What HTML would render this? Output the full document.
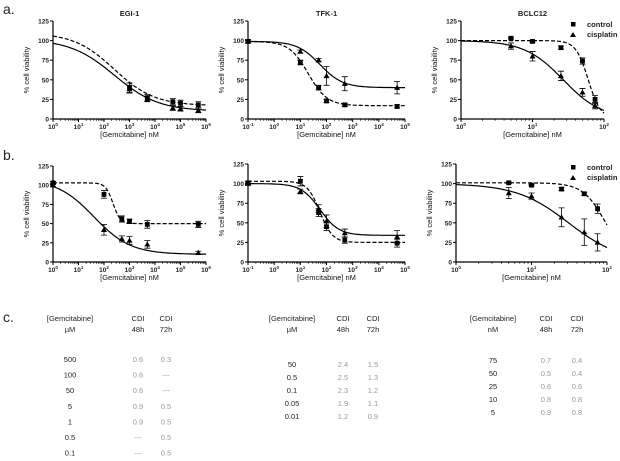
<!DOCTYPE html>
<html><head><meta charset="utf-8">
<style>
body{margin:0;background:#fff;width:620px;height:461px;overflow:hidden;font-family:"Liberation Sans",sans-serif;}
svg{position:absolute;left:0;top:0}
</style></head><body>
<svg id="fig" width="620" height="461"></svg>
<script>
// ---- data arrays ----
const a1X=[1000,5000,50000,100000,500000];
const a1Ctrl=[40,27,22,20,18];
const a1CtrlErr=[6,4,4,4,4];
const a1Cis=[38,25,14,13,11];
const a1CisErr=[5,3,3,3,3];
const a1CtrlFit=[110,17,2.4,0.55];
const a1CisFit=[102,10,2.4,0.5];

const a2X=[0.1,10,50,100,500,50000];
const a2Ctrl=[99,72,40,23,18,16];
const a2CtrlErr=[2,3,3,2,2,2];
const a2Cis=[99,86,75,55,45,40];
const a2CisErr=[2,2,2,12,9,8];
const a2CtrlFit=[99,17,1.3,1.2];
const a2CisFit=[99,40,1.75,1];

const a3X=[5,10,25,50,75];
const a3Ctrl=[103,99,91,74,25];
const a3CtrlErr=[1,1,2,4,5];
const a3Cis=[93,80,55,34,17];
const a3CisErr=[4,6,6,5,4];
const a3CtrlFit=[100,0,1.78,5];
const a3CisFit=[100,0,1.43,1.6];

const b1X=[1,100,500,1000,5000,500000];
const b1Ctrl=[103,88,56,53,49,49];
const b1CtrlErr=[2,5,4,3,5,4];
const b1Cis=[100,42,30,28,23,12];
const b1CisErr=[2,7,4,5,5,2];
const b1CtrlFit=[103,50,2.35,3];
const b1CisFit=[108,10,1.6,0.6];

const b2X=[0.1,10,50,100,500,50000];
const b2Ctrl=[101,103,63,45,28,24];
const b2CtrlErr=[2,6,5,5,4,5];
const b2Cis=[100,90,68,52,37,32];
const b2CisErr=[2,3,5,8,5,8];
const b2CtrlFit=[103,25,1.75,1.8];
const b2CisFit=[100,34,1.75,1.2];

const b3X=[5,10,25,50,75];
const b3Ctrl=[101,98,93,87,68];
const b3CtrlErr=[1,1,2,2,6];
const b3Cis=[88,84,57,38,25];
const b3CisErr=[7,4,12,17,11];
const b3CtrlFit=[101,0,1.98,2.9];
const b3CisFit=[100,0,1.49,1.26];

const yTicks=[0,25,50,75,100,125];

const NS="http://www.w3.org/2000/svg";
const svg=document.getElementById('fig');
function mk(tag,attrs,parent){const e=document.createElementNS(NS,tag);for(const k in attrs)e.setAttribute(k,attrs[k]);(parent||svg).appendChild(e);return e;}
function txt(s,x,y,attrs,parent){const t=mk('text',Object.assign({x:x,y:y,'font-size':7,'font-weight':'bold','fill':'#222','text-anchor':'middle'},attrs||{}),parent);t.textContent=s;return t;}

function panel(p){
  const g=mk('g',{});
  
  
  const sx=v=>p.x0+(Math.log10(v)-p.lmin)/(p.lmax-p.lmin)*(p.x1-p.x0);
  const sy=v=>p.y0-(v/125)*(p.y0-p.y1);
  const ax=mk('path',{d:`M${p.x0},${p.y1} V${p.y0} H${p.x1}`,stroke:'#000','stroke-width':1.2,fill:'none'},g);
  
  
  yTicks.forEach(t=>{
    mk('line',{x1:p.x0-3,x2:p.x0,y1:sy(t),y2:sy(t),stroke:'#000','stroke-width':1},g);
    const l=txt(String(t),p.x0-4,sy(t)+2.5,{'text-anchor':'end','font-size':6.5},g);
    
    
  });
  for(let e=p.lmin;e<=p.lmax;e++){
    const X=sx(Math.pow(10,e));
    mk('line',{x1:X,x2:X,y1:p.y0,y2:p.y0+3,stroke:'#000','stroke-width':1},g);
    const t=mk('text',{x:X,y:p.y0+10,'font-size':6.5,'font-weight':'bold','text-anchor':'middle',fill:'#222'},g);
    t.textContent='10';
    const s=mk('tspan',{dy:-3,'font-size':4.5},t);s.textContent=String(e);
    
    
    if(e<p.lmax)for(let m=2;m<10;m++){const xm=sx(m*Math.pow(10,e));mk('line',{x1:xm,x2:xm,y1:p.y0,y2:p.y0+1.8,stroke:'#000','stroke-width':0.7},g);}
  }
  if(p.title){const t=txt(p.title,(p.x0+p.x1)/2,p.y1-5,{'font-size':7.5},g);}
  const xl=txt('[Gemcitabine]  nM',(p.x0+p.x1)/2,p.y0+18,{'font-size':7.5,'font-weight':'normal',fill:'#111'},g);
  
  const yl=txt('% cell  viability',0,0,{'font-size':7.5,'font-weight':'normal',fill:'#111',transform:`translate(${p.x0-24},${(p.y0+p.y1)/2}) rotate(-90)`},g);
  
  function curve(fit,dash,name){
    let d='';
    for(let i=0;i<=120;i++){
      const lx=p.lmin+(p.lmax-p.lmin)*i/120;
      const v=fit[1]+(fit[0]-fit[1])/(1+Math.pow(10,(lx-fit[2])*fit[3]));
      d+=(i?'L':'M')+(p.x0+(lx-p.lmin)/(p.lmax-p.lmin)*(p.x1-p.x0)).toFixed(1)+','+sy(v).toFixed(1);
    }
    const c=mk('path',{d:d,stroke:'#000','stroke-width':1.2,fill:'none','stroke-dasharray':dash?'4,2':'none'},g);
    
  }
  curve(p.cf,true,'control-fit-line');
  curve(p.sf,false,'cisplatin-fit-line');
  function pts(vals,errs,tri,name){
    vals.forEach((v,i)=>{
      const X=sx(p.xs[i]),Y=sy(v),e=errs[i]*(p.y0-p.y1)/125;
      mk('path',{d:`M${X},${Y-e}V${Y+e}M${X-3},${Y-e}H${X+3}M${X-3},${Y+e}H${X+3}`,stroke:'#000','stroke-width':0.8},g);
      let m;
      if(tri)m=mk('path',{d:`M${X},${Y-3}L${X+3},${Y+2.2}L${X-3},${Y+2.2}Z`,fill:'#000'},g);
      else m=mk('rect',{x:X-2.4,y:Y-2.4,width:4.8,height:4.8,fill:'#000'},g);
      
    });
  }
  pts(p.cv,p.ce,false,'control-point');
  pts(p.sv,p.se,true,'cisplatin-point');
  if(p.legend){
    const lg=mk('g',{},g);
    mk('rect',{x:571,y:p.y1+1,width:4.5,height:4.5,fill:'#000'},lg);
    txt('control',587,p.y1+6,{'text-anchor':'start','font-size':7.5},lg);
    mk('path',{d:`M573,${p.y1+11}L576,${p.y1+16}L570,${p.y1+16}Z`,fill:'#000'},lg);
    txt('cisplatin',587,p.y1+16,{'text-anchor':'start','font-size':7.5},lg);
  }
}
panel({name:'chart-a-egi1',title:'EGI-1',x0:53,x1:206,lmin:0,lmax:6,y0:119,y1:21,xs:a1X,cv:a1Ctrl,ce:a1CtrlErr,sv:a1Cis,se:a1CisErr,cf:a1CtrlFit,sf:a1CisFit});
panel({name:'chart-a-tfk1',title:'TFK-1',x0:248,x1:405,lmin:-1,lmax:5,y0:119,y1:21,xs:a2X,cv:a2Ctrl,ce:a2CtrlErr,sv:a2Cis,se:a2CisErr,cf:a2CtrlFit,sf:a2CisFit});
panel({name:'chart-a-bclc12',title:'BCLC12',x0:461,x1:604,lmin:0,lmax:2,y0:119,y1:21,xs:a3X,cv:a3Ctrl,ce:a3CtrlErr,sv:a3Cis,se:a3CisErr,cf:a3CtrlFit,sf:a3CisFit,legend:true});
panel({name:'chart-b-egi1',x0:53,x1:206,lmin:0,lmax:6,y0:262,y1:166,xs:b1X,cv:b1Ctrl,ce:b1CtrlErr,sv:b1Cis,se:b1CisErr,cf:b1CtrlFit,sf:b1CisFit});
panel({name:'chart-b-tfk1',x0:248,x1:405,lmin:-1,lmax:5,y0:262,y1:164,xs:b2X,cv:b2Ctrl,ce:b2CtrlErr,sv:b2Cis,se:b2CisErr,cf:b2CtrlFit,sf:b2CisFit});
panel({name:'chart-b-bclc12',x0:456,x1:607,lmin:0,lmax:2,y0:262,y1:164,xs:b3X,cv:b3Ctrl,ce:b3CtrlErr,sv:b3Cis,se:b3CisErr,cf:b3CtrlFit,sf:b3CisFit,legend:true});

['a.','b.','c.'].forEach((s,i)=>{const t=txt(s,3,[14,160,322][i],{'text-anchor':'start','font-size':14,'font-weight':'normal'});});

const t1Conc=['500','100','50','5','1','0.5','0.1'];
const t1C48=['0.6','0.6','0.6','0.9','0.9','---','---'];
const t1C72=['0.3','---','---','0.5','0.5','0.5','0.5'];
const t2Conc=['50','0.5','0.1','0.05','0.01'];
const t2C48=['2.4','2.5','2.3','1.9','1.2'];
const t2C72=['1.5','1.3','1.2','1.1','0.9'];
const t3Conc=['75','50','25','10','5'];
const t3C48=['0.7','0.5','0.6','0.8','0.9'];
const t3C72=['0.4','0.4','0.6','0.8','0.8'];
function table(name,unit,cx,c1,c2,y0,dy,conc,a,b){
  const g=mk('g',{});
  const o={'font-size':7.5,'font-weight':'normal',fill:'#222'};
  txt('[Gemcitabine]',cx,321,o,g);txt(unit,cx,332,o,g);
  txt('CDI',c1,321,o,g);txt('48h',c1,332,o,g);txt('CDI',c2,321,o,g);txt('72h',c2,332,o,g);
  conc.forEach((c,i)=>{const y=y0+i*dy;
    txt(c,cx,y,o,g);
    txt(a[i],c1,y,Object.assign({},o,{fill:'#999'}),g);
    txt(b[i],c2,y,Object.assign({},o,{fill:'#999'}),g);});
}
table('cdi-table-egi1','µM',70,138,166,362,15.6,t1Conc,t1C48,t1C72);
table('cdi-table-tfk1','µM',292,343,373,367,13,t2Conc,t2C48,t2C72);
table('cdi-table-bclc12','nM',493,546,577,363,13,t3Conc,t3C48,t3C72);
</script>
</body></html>
